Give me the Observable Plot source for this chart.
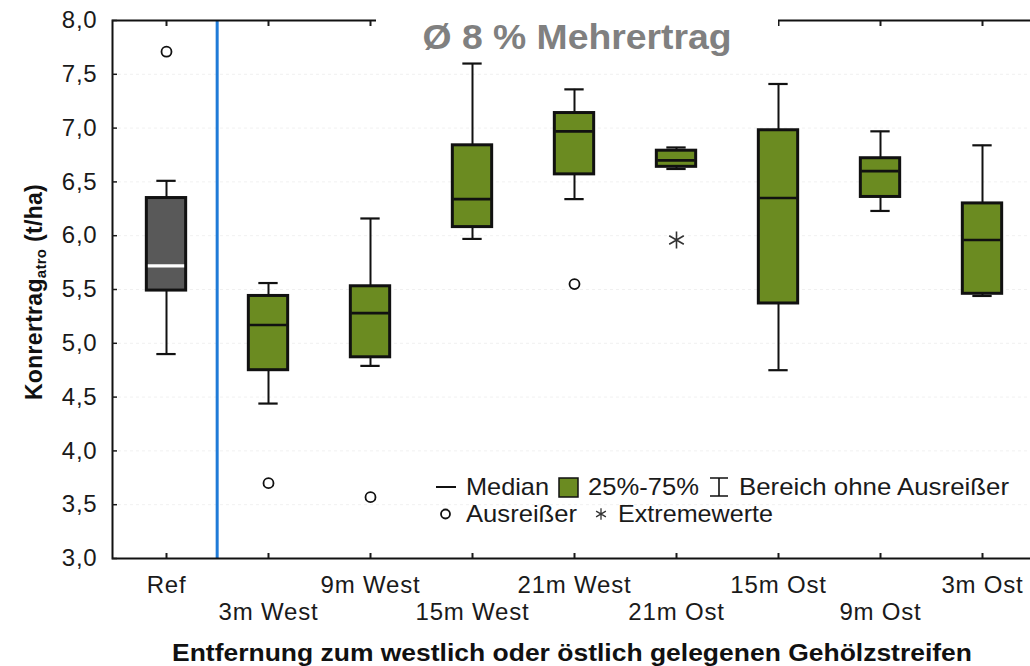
<!DOCTYPE html>
<html><head><meta charset="utf-8">
<script src="https://cdn.jsdelivr.net/npm/d3@7"></script>
<script src="https://cdn.jsdelivr.net/npm/@observablehq/plot@0.6"></script>
<style>
html,body{margin:0;padding:0;background:#fff;overflow:hidden;width:1030px;height:666px;}
#chart{position:relative;width:1030px;height:666px;overflow:hidden;}
#chart svg{display:block;max-width:none !important;}
</style></head><body><div id="chart"></div>
<script>
// ---- data ----
const categories = ["Ref","3m West","9m West","15m West","21m West","21m Ost","15m Ost","9m Ost","3m Ost"];
const whiskerLow  = [4.90, 4.44, 4.79, 5.97, 6.34, 6.62, 4.75, 6.23, 5.44];
const quart1      = [5.49, 4.75, 4.87, 6.08, 6.57, 6.64, 5.37, 6.36, 5.46];
const median      = [5.72, 5.17, 5.28, 6.34, 6.97, 6.70, 6.35, 6.60, 5.96];
const quart3      = [6.35, 5.44, 5.53, 6.84, 7.14, 6.79, 6.98, 6.72, 6.30];
const whiskerHigh = [6.51, 5.56, 6.16, 7.60, 7.36, 6.82, 7.41, 6.97, 6.84];
const outlierCats = ["Ref", "3m West", "9m West", "21m West"];
const outlierVals = [7.71, 3.70, 3.57, 5.55];
const extremeCats = ["21m Ost"];
const extremeVals = [5.96];
const yTicks = [3.0, 3.5, 4.0, 4.5, 5.0, 5.5, 6.0, 6.5, 7.0, 7.5, 8.0];
const titleText = "Ø 8 % Mehrertrag";
const xLabel = "Entfernung zum westlich oder östlich gelegenen Gehölzstreifen";
const legendRow1 = ["Median", "25%-75%", "Bereich ohne Ausreißer"];
const legendRow2 = ["Ausreißer", "Extremewerte"];

// ---- derived tables ----
const rows = categories.map((cat, i) => ({cat, lo: whiskerLow[i], q1: quart1[i], med: median[i], q3: quart3[i], hi: whiskerHigh[i], ref: cat === "Ref"}));
const outliers = outlierCats.map((cat, i) => ({cat, v: outlierVals[i]}));
const extremes = extremeCats.map((cat, i) => ({cat, v: extremeVals[i]}));

const W = 1040, H = 666, ML = 112, MR = 4, MT = 20, MB = 108;
const bw = (W - ML - MR) / categories.length;
const boxInset = (bw - 40) / 2, capInset = (bw - 20) / 2;
const fmt = d => d.toFixed(1).replace(".", ",");
const GREEN = "#6b8b21", DARK = "#595959", INK = "#111";
const FONT = "'Liberation Sans', Arial, Helvetica, sans-serif";

const plot = Plot.plot({
  width: W, height: H,
  marginLeft: ML, marginRight: MR, marginTop: MT, marginBottom: MB,
  style: {fontFamily: FONT, fontSize: "24px", color: "#1a1a1a", background: "white", overflow: "visible", letterSpacing: "0.8px", maxWidth: "none"},
  x: {domain: categories, padding: 0, axis: null},
  y: {domain: [3, 8], axis: null},
  marks: [
    Plot.gridY(yTicks, {stroke: "#000", strokeOpacity: 0.06, strokeDasharray: "3,3"}),
    Plot.ruleX(["3m West"], {stroke: "#1f7bd8", strokeWidth: 3, dx: -bw / 2}),
    Plot.ruleX(rows, {x: "cat", y1: "lo", y2: "hi", stroke: INK, strokeWidth: 2}),
    Plot.tickY(rows, {x: "cat", y: "lo", stroke: INK, strokeWidth: 2.2, insetLeft: capInset, insetRight: capInset}),
    Plot.tickY(rows, {x: "cat", y: "hi", stroke: INK, strokeWidth: 2.2, insetLeft: capInset, insetRight: capInset}),
    Plot.barY(rows.filter(d => !d.ref), {x: "cat", y1: "q1", y2: "q3", fill: GREEN, stroke: INK, strokeWidth: 3, insetLeft: boxInset, insetRight: boxInset}),
    Plot.barY(rows.filter(d => d.ref), {x: "cat", y1: "q1", y2: "q3", fill: DARK, stroke: INK, strokeWidth: 3, insetLeft: boxInset, insetRight: boxInset}),
    Plot.tickY(rows.filter(d => !d.ref), {x: "cat", y: "med", stroke: INK, strokeWidth: 2.6, insetLeft: boxInset + 1, insetRight: boxInset + 1}),
    Plot.tickY(rows.filter(d => d.ref), {x: "cat", y: "med", stroke: "white", strokeWidth: 3.2, insetLeft: boxInset + 1.5, insetRight: boxInset + 1.5}),
    Plot.dot(outliers, {x: "cat", y: "v", r: 5, stroke: INK, strokeWidth: 1.8, fill: "white"}),
    Plot.dot(extremes, {x: "cat", y: "v", r: 8, symbol: "asterisk", stroke: "#333", strokeWidth: 1.6}),
    Plot.frame({stroke: INK, strokeWidth: 2}),
    // inward tick marks
    Plot.axisX({anchor: "bottom", tickSize: 5, dy: -5, tickFormat: () => "", label: null, strokeWidth: 2}),
    Plot.axisX({anchor: "top", tickSize: 5, dy: 5, tickFormat: () => "", label: null, strokeWidth: 2}),
    Plot.axisY({anchor: "left", ticks: yTicks, tickSize: 5, dx: 5, tickFormat: () => "", label: null, strokeWidth: 1.5}),
    Plot.axisY({anchor: "right", ticks: yTicks, tickSize: 5, dx: -5, tickFormat: () => "", label: null, strokeWidth: 1.5}),
    // tick labels
    Plot.axisX({anchor: "bottom", tickSize: 0, tickPadding: 17, label: null,
      tickFormat: d => categories.indexOf(d) % 2 === 0 ? d : ""}),
    Plot.axisX({anchor: "bottom", tickSize: 0, tickPadding: 44, label: null,
      tickFormat: d => categories.indexOf(d) % 2 === 1 ? d : ""}),
    Plot.axisY({anchor: "left", ticks: yTicks, tickSize: 0, tickPadding: 15, label: null, tickFormat: fmt})
  ]
});

const svg = d3.select(plot);
svg.style("max-width", "none");

// title with white backing (covers the top frame)
svg.append("rect").attr("x", 376).attr("y", 0).attr("width", 402).attr("height", 58).attr("fill", "white");
svg.append("text").attr("x", 577).attr("y", 49).attr("text-anchor", "middle")
  .attr("font-family", FONT).attr("font-weight", "bold").attr("font-size", 35)
  .attr("letter-spacing", 0).attr("fill", "#808080")
  .attr("textLength", 309).attr("lengthAdjust", "spacingAndGlyphs").text(titleText);

// y-axis label with subscript
const yl = svg.append("text").attr("transform", "translate(42,292) rotate(-90)")
  .attr("text-anchor", "middle").attr("font-family", FONT).attr("font-weight", "bold")
  .attr("font-size", 23).attr("letter-spacing", 0.3).attr("fill", "#111");
yl.append("tspan").text("Konrertrag");
yl.append("tspan").attr("font-size", 15).attr("dy", 4).text("atro");
yl.append("tspan").attr("dy", -4).text(" (t/ha)");

// x-axis label
svg.append("text").attr("x", 572).attr("y", 661).attr("text-anchor", "middle")
  .attr("font-family", FONT).attr("font-weight", "bold").attr("font-size", 23)
  .attr("letter-spacing", 0).attr("fill", "#111")
  .attr("textLength", 800).attr("lengthAdjust", "spacingAndGlyphs").text(xLabel);

// legend
const lg = svg.append("g").attr("font-family", FONT).attr("font-size", 24).attr("fill", "#1a1a1a")
  .attr("letter-spacing", 0).attr("text-anchor", "start");
const t = (x, y, s, len) => lg.append("text").attr("x", x).attr("y", y).attr("text-anchor", "start")
  .attr("textLength", len).attr("lengthAdjust", "spacingAndGlyphs").text(s);
lg.append("line").attr("x1", 436).attr("x2", 456).attr("y1", 487).attr("y2", 487).attr("stroke", INK).attr("stroke-width", 2);
t(466, 495, legendRow1[0], 83);
lg.append("rect").attr("x", 559).attr("y", 478).attr("width", 19).attr("height", 19).attr("fill", GREEN).attr("stroke", INK).attr("stroke-width", 1.5);
t(588, 495, legendRow1[1], 111);
lg.append("path").attr("d", "M710,478H728M719,478V496M710,496H728").attr("stroke", INK).attr("stroke-width", 1.6).attr("fill", "none");
t(739, 495, legendRow1[2], 270);
lg.append("circle").attr("cx", 445.5).attr("cy", 514).attr("r", 4.5).attr("fill", "none").attr("stroke", INK).attr("stroke-width", 1.8);
t(466, 522, legendRow2[0], 111);
lg.append("path").attr("transform", "translate(601,514)").attr("d", d3.symbol(d3.symbolAsterisk, 90)()).attr("stroke", "#333").attr("stroke-width", 1.3).attr("fill", "none");
t(618, 522, legendRow2[1], 155);

document.getElementById("chart").appendChild(plot);
</script>
</body></html>
